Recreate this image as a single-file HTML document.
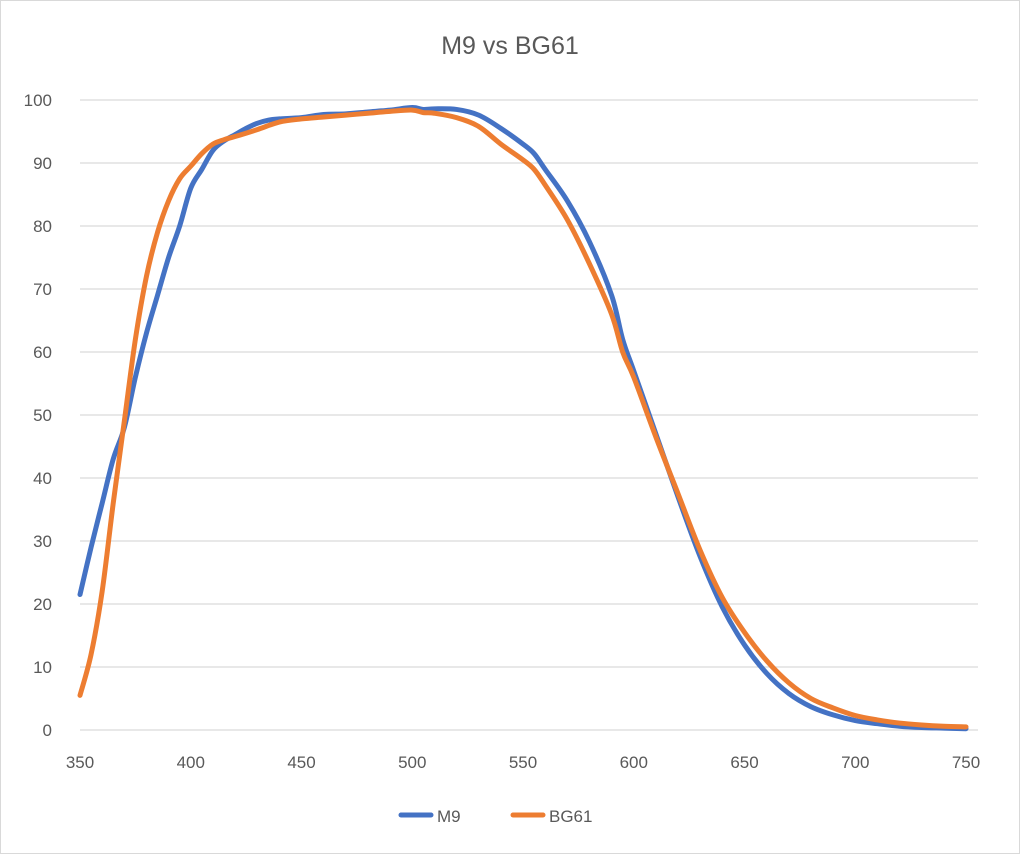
<!DOCTYPE html>
<html><head><meta charset="utf-8"><style>
html,body{margin:0;padding:0;background:#fff}
svg{display:block;font-family:"Liberation Sans",sans-serif}
</style></head><body>
<svg id="chart" width="1020" height="854" viewBox="0 0 1020 854" xmlns="http://www.w3.org/2000/svg">
<rect x="0.5" y="0.5" width="1019" height="853" fill="#fff" stroke="#d9d9d9"/>
<text x="510" y="54" text-anchor="middle" font-size="25" fill="#595959">M9 vs BG61</text>
<g id="grid"></g>
<g id="yticks"></g>
<g id="xticks"></g>
<g id="series"></g>
<g>
<g><line x1="401" y1="815" x2="431" y2="815" stroke="#4472C4" stroke-width="5" stroke-linecap="round"/><text x="437" y="822" font-size="17" fill="#595959">M9</text></g>
<g><line x1="513" y1="815" x2="543" y2="815" stroke="#ED7D31" stroke-width="5" stroke-linecap="round"/><text x="549" y="822" font-size="17" fill="#595959">BG61</text></g>
</g>
</svg>
<script>
const yTicks=[0,10,20,30,40,50,60,70,80,90,100];
const xTicks=[350,400,450,500,550,600,650,700,750];
const m9X=[350,355,360,365,370,375,380,385,390,395,400,405,410,415,420,425,430,435,440,450,460,470,480,490,500,505,510,520,530,540,550,555,560,570,580,590,595,600,610,620,630,640,650,660,670,680,690,700,710,720,730,740,750];
const m9Y=[21.5,29,36,43,48,56,63,69,75,80,86,89,92,93.5,94.5,95.5,96.3,96.8,97,97.2,97.7,97.8,98.1,98.4,98.8,98.5,98.6,98.5,97.6,95.5,93,91.5,89,84,77.5,69,62,57,47,37,27.5,19.5,13.5,9,5.8,3.7,2.4,1.5,1,0.6,0.4,0.3,0.2];
const bgX=[350,355,360,365,370,375,380,385,390,395,400,405,410,415,420,430,440,450,460,470,480,490,500,505,510,520,530,540,550,555,560,570,580,590,595,600,610,620,630,640,650,660,670,680,690,700,710,720,730,740,750];
const bgY=[5.5,12,22,36,49,62,72,79,84,87.5,89.5,91.5,93,93.7,94.2,95.3,96.5,97,97.3,97.6,97.9,98.2,98.4,98,97.9,97.2,95.8,93,90.5,89,86.5,81,74,66,60,56,46.5,37.5,28.5,21,15.5,11,7.5,5,3.5,2.3,1.6,1.1,0.8,0.6,0.5];
const NS="http://www.w3.org/2000/svg";
const X0=80,X1=966,Y0=730,Y1=100;
function sx(v){return X0+(v-350)/(750-350)*(X1-X0);}
function sy(v){return Y0-(v-0)/100*(Y0-Y1);}
const grid=document.getElementById('grid'),yt=document.getElementById('yticks'),xt=document.getElementById('xticks'),ser=document.getElementById('series');
yTicks.forEach(t=>{
 const l=document.createElementNS(NS,'line');
 
 
 l.setAttribute('x1',X0);l.setAttribute('x2',978);l.setAttribute('y1',sy(t));l.setAttribute('y2',sy(t));
 l.setAttribute('stroke','#d9d9d9');l.setAttribute('stroke-width','1.3');grid.appendChild(l);
 const tx=document.createElementNS(NS,'text');
 
 
 tx.setAttribute('x',52);tx.setAttribute('y',sy(t)+6);tx.setAttribute('text-anchor','end');tx.setAttribute('font-size','17');tx.setAttribute('fill','#595959');tx.textContent=t;yt.appendChild(tx);
});
xTicks.forEach(t=>{
 const tx=document.createElementNS(NS,'text');
 
 
 tx.setAttribute('x',sx(t));tx.setAttribute('y',768);tx.setAttribute('text-anchor','middle');tx.setAttribute('font-size','17');tx.setAttribute('fill','#595959');tx.textContent=t;xt.appendChild(tx);
});
function path(xs,ys){
 const p=xs.map((x,i)=>[sx(x),sy(ys[i])]);
 let d='M'+p[0][0]+','+p[0][1];
 for(let i=0;i<p.length-1;i++){
  const a=p[i-1]||p[i],b=p[i],c=p[i+1],e=p[i+2]||c;
  const c1=[b[0]+(c[0]-a[0])/6,b[1]+(c[1]-a[1])/6],c2=[c[0]-(e[0]-b[0])/6,c[1]-(e[1]-b[1])/6];
  d+=' C'+c1+' '+c2+' '+c;
 }
 return d;
}
[[m9X,m9Y,'#4472C4','line-m9'],[bgX,bgY,'#ED7D31','line-bg61']].forEach(s=>{
 const el=document.createElementNS(NS,'path');
 
 
 el.setAttribute('d',path(s[0],s[1]));el.setAttribute('fill','none');el.setAttribute('stroke',s[2]);el.setAttribute('stroke-width','5');el.setAttribute('stroke-linecap','round');el.setAttribute('stroke-linejoin','round');
 ser.appendChild(el);
});
</script>
</body></html>
